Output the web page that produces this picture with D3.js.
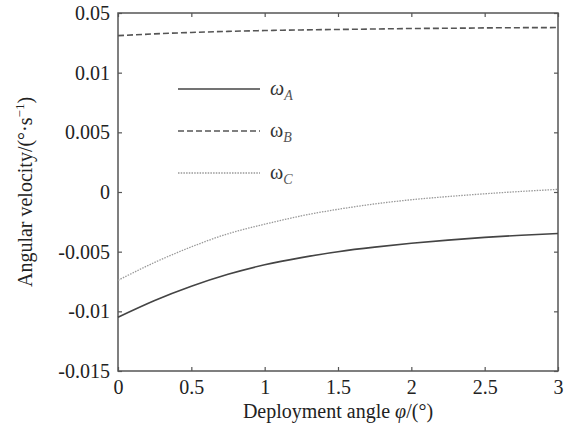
<!DOCTYPE html>
<html>
<head>
<meta charset="utf-8">
<script src="https://cdn.jsdelivr.net/npm/d3@7"></script>
<style>
  body { margin: 0; background: #fff; }
  svg text { font-family: "Times New Roman", "Liberation Serif", "DejaVu Serif", serif; }
</style>
</head>
<body>
<div id="chart"></div>
<script>
const angles = [0, 0.25, 0.5, 0.75, 1, 1.25, 1.5, 1.75, 2, 2.25, 2.5, 2.75, 3];
const omegaA = [-0.0105, -0.0091, -0.0079, -0.0069, -0.0061, -0.0055, -0.0050, -0.00462, -0.0043, -0.00403, -0.0038, -0.00362, -0.00348];
const omegaB = [0.0131, 0.01325, 0.01337, 0.01346, 0.01353, 0.01358, 0.01362, 0.01366, 0.0137, 0.01372, 0.01375, 0.01377, 0.01378];
const omegaC = [-0.0074, -0.0059, -0.0046, -0.0035, -0.0027, -0.0020, -0.00145, -0.0010, -0.00065, -0.00038, -0.00015, 0.00005, 0.00022];

const xTicks = [0, 0.5, 1, 1.5, 2, 2.5, 3];
const xTickLabels = ["0", "0.5", "1", "1.5", "2", "2.5", "3"];
const yTicks = [-0.015, -0.01, -0.005, 0, 0.005, 0.01, 0.015];
const yTickLabels = ["-0.015", "-0.01", "-0.005", "0", "0.005", "0.01", "0.05"];

const w = 574, h = 425;
const margin = { top: 13, right: 16, bottom: 54, left: 118 };
const serif = '"Times New Roman", "Liberation Serif", "DejaVu Serif", serif';

const svg = d3.select("#chart").append("svg")
    .attr("width", w)
    .attr("height", h)
    .attr("font-family", serif);

const x = d3.scaleLinear()
    .domain([0, 3])
    .range([margin.left, w - margin.right]);

const y = d3.scaleLinear()
    .domain([-0.015, 0.015])
    .range([h - margin.bottom, margin.top]);

const axisColor = "#555";

// axes (ticks point inward, mirrored on top/right)
function styleAxis(g) {
    g.attr("font-family", serif).attr("font-size", 20);
    g.select(".domain").remove();
    g.selectAll("line").attr("stroke", axisColor).attr("stroke-width", 1.2);
    g.selectAll("text").attr("fill", "#222");
}

svg.append("g")
    .attr("transform", `translate(0,${h - margin.bottom})`)
    .call(d3.axisBottom(x).tickValues(xTicks)
        .tickFormat((d, i) => xTickLabels[i])
        .tickSizeInner(-4).tickSizeOuter(0).tickPadding(9))
    .call(styleAxis);

svg.append("g")
    .attr("transform", `translate(0,${margin.top})`)
    .call(d3.axisTop(x).tickValues(xTicks).tickFormat("")
        .tickSizeInner(-4).tickSizeOuter(0))
    .call(styleAxis);

svg.append("g")
    .attr("transform", `translate(${margin.left},0)`)
    .call(d3.axisLeft(y).tickValues(yTicks)
        .tickFormat((d, i) => yTickLabels[i])
        .tickSizeInner(-4).tickSizeOuter(0).tickPadding(8))
    .call(styleAxis);

svg.append("g")
    .attr("transform", `translate(${w - margin.right},0)`)
    .call(d3.axisRight(y).tickValues(yTicks).tickFormat("")
        .tickSizeInner(-4).tickSizeOuter(0))
    .call(styleAxis);

// frame
svg.append("rect")
    .attr("x", margin.left)
    .attr("y", margin.top)
    .attr("width", w - margin.left - margin.right)
    .attr("height", h - margin.top - margin.bottom)
    .attr("fill", "none")
    .attr("stroke", axisColor)
    .attr("stroke-width", 1.5);

// series
const series = [
    { name: "A", values: omegaA, color: "#444", width: 1.6, dash: null },
    { name: "B", values: omegaB, color: "#555", width: 1.6, dash: "6 3" },
    { name: "C", values: omegaC, color: "#999", width: 1.3, dash: "1.5 1.2" }
];

const line = d3.line()
    .x((d, i) => x(angles[i]))
    .y(d => y(d))
    .curve(d3.curveNatural);

series.forEach(s => {
    svg.append("path")
        .datum(s.values)
        .attr("fill", "none")
        .attr("stroke", s.color)
        .attr("stroke-width", s.width)
        .attr("stroke-dasharray", s.dash)
        .attr("d", line);
});

// legend
const legendY = [89, 131, 173];
series.forEach((s, i) => {
    svg.append("line")
        .attr("x1", 178).attr("x2", 260)
        .attr("y1", legendY[i]).attr("y2", legendY[i])
        .attr("stroke", s.color)
        .attr("stroke-width", s.width)
        .attr("stroke-dasharray", s.dash);
    const t = svg.append("text")
        .attr("x", 270)
        .attr("y", legendY[i] + 6)
        .attr("font-size", 20)
        .attr("fill", "#333");
    t.append("tspan")
        .attr("font-style", i === 0 ? "italic" : "normal")
        .text("ω");
    t.append("tspan")
        .attr("font-style", "italic")
        .attr("font-size", 14)
        .attr("dy", 5)
        .attr("fill", "#555")
        .text(s.name);
});

// axis labels
svg.append("text")
    .attr("x", (margin.left + w - margin.right) / 2)
    .attr("y", 418)
    .attr("text-anchor", "middle")
    .attr("font-size", 20)
    .attr("fill", "#222")
    .html('Deployment angle <tspan font-style="italic">φ</tspan>/(°)');

const yl = svg.append("text")
    .attr("transform", "rotate(-90)")
    .attr("x", -(margin.top + h - margin.bottom) / 2)
    .attr("y", 32)
    .attr("text-anchor", "middle")
    .attr("font-size", 20)
    .attr("fill", "#222");
yl.append("tspan").text("Angular velocity/(°·s");
yl.append("tspan").attr("font-size", 13).attr("dy", -8).text("−1");
yl.append("tspan").attr("dy", 8).text(")");
</script>
</body>
</html>
